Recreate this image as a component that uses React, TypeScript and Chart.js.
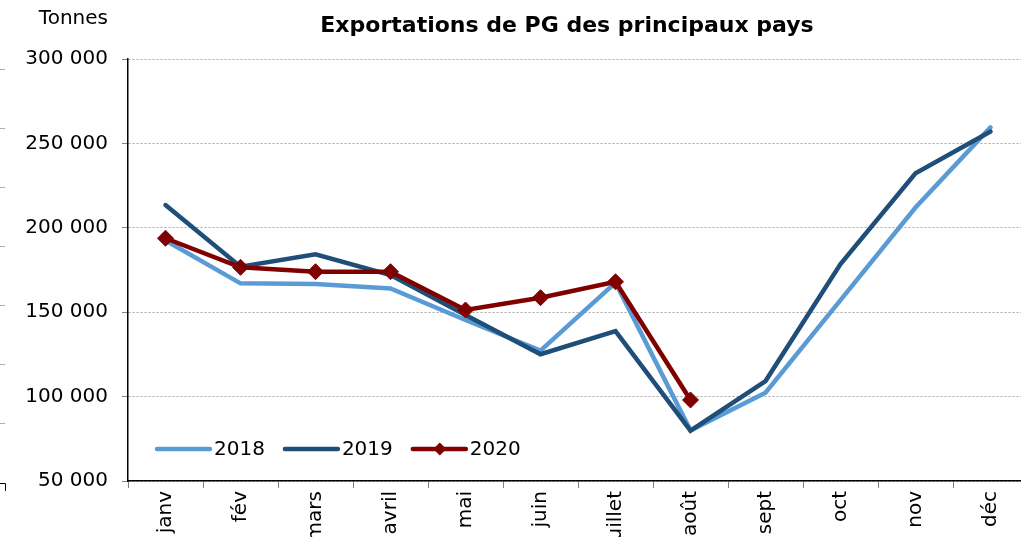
import React, { useEffect, useRef } from "react";
import { Chart, registerables } from "chart.js";

Chart.register(...registerables);

const months = ["janv", "fév", "mars", "avril", "mai", "juin", "juillet", "août", "sept", "oct", "nov", "déc"];
const values2018 = [192500, 167100, 166700, 164100, 145400, 127200, 167500, 80000, 102300, 157200, 212000, 259500];
const values2019 = [213500, 177000, 184300, 172000, 148400, 125100, 138800, 79800, 109200, 178500, 232300, 257000];
const values2020 = [193800, 176600, 174000, 174000, 151300, 158600, 168000, 98000, null, null, null, null];
const seriesLabels = ["2018", "2019", "2020"];
const yTicks = { min: 50000, max: 300000, step: 50000 };
const titleText = "Exportations de PG des principaux pays";
const unitText = "Tonnes";

const FONT = "'DejaVu Sans', sans-serif";

const fmt = (v: number) => String(v).replace(/\B(?=(\d{3})+(?!\d))/g, " ");

const decorPlugin = {
  id: "decor",
  afterDraw(chart: any) {
    const ctx = chart.ctx;
    ctx.save();
    // title
    ctx.fillStyle = "#000";
    ctx.font = `bold 22px ${FONT}`;
    ctx.textAlign = "center";
    ctx.textBaseline = "middle";
    ctx.fillText(titleText, 567, 26);
    // unit
    ctx.font = `20px ${FONT}`;
    ctx.textAlign = "right";
    ctx.fillText(unitText, 108, 19);
    // stray marks at left edge
    ctx.strokeStyle = "#b0b0b0";
    ctx.lineWidth = 1;
    [69, 128, 187, 246, 305, 364, 423].forEach((y) => {
      ctx.beginPath();
      ctx.moveTo(0, y + 0.5);
      ctx.lineTo(5, y + 0.5);
      ctx.stroke();
    });
    ctx.strokeStyle = "#000";
    ctx.beginPath();
    ctx.moveTo(0, 483.5);
    ctx.lineTo(5.5, 483.5);
    ctx.lineTo(5.5, 491);
    ctx.stroke();
    // legend
    let x = 157;
    const ly = 449;
    ctx.font = `20px ${FONT}`;
    ctx.textAlign = "left";
    ctx.textBaseline = "middle";
    chart.data.datasets.forEach((ds: any) => {
      ctx.strokeStyle = ds.borderColor;
      ctx.lineWidth = 4.5;
      ctx.lineCap = "round";
      ctx.beginPath();
      ctx.moveTo(x, ly);
      ctx.lineTo(x + 53, ly);
      ctx.stroke();
      if (ds.pointRadius > 0) {
        ctx.fillStyle = ds.borderColor;
        const r = 6.5;
        const cx = x + 27;
        ctx.beginPath();
        ctx.moveTo(cx, ly - r);
        ctx.lineTo(cx + r, ly);
        ctx.lineTo(cx, ly + r);
        ctx.lineTo(cx - r, ly);
        ctx.closePath();
        ctx.fill();
      }
      ctx.fillStyle = "#000";
      ctx.fillText(ds.label, x + 57, ly + 1);
      x += 57 + ctx.measureText(ds.label).width + 20;
    });
    ctx.restore();
  },
};

export default function App() {
  const ref = useRef<HTMLCanvasElement | null>(null);
  useEffect(() => {
    if (!ref.current) return;
    const chart = new Chart(ref.current, {
      type: "line",
      data: {
        labels: months,
        datasets: [
          {
            label: seriesLabels[0],
            data: values2018,
            borderColor: "#5B9BD5",
            backgroundColor: "#5B9BD5",
            borderWidth: 4.5,
            pointRadius: 0,
            borderCapStyle: "round",
            tension: 0,
            order: 2,
          },
          {
            label: seriesLabels[1],
            data: values2019,
            borderColor: "#1F4E79",
            backgroundColor: "#1F4E79",
            borderWidth: 4.5,
            pointRadius: 0,
            borderCapStyle: "round",
            tension: 0,
            order: 1,
          },
          {
            label: seriesLabels[2],
            data: values2020,
            borderColor: "#800000",
            backgroundColor: "#800000",
            borderWidth: 4.5,
            pointStyle: "rectRot",
            pointRadius: 8,
            pointBorderWidth: 1,
            pointBackgroundColor: "#800000",
            pointBorderColor: "#800000",
            tension: 0,
            spanGaps: false,
            order: 0,
          },
        ],
      },
      options: {
        animation: false,
        responsive: false,
        devicePixelRatio: 1,
        layout: { padding: { left: 0, top: 59, right: 12, bottom: 0 } },
        plugins: {
          legend: { display: false },
          title: { display: false },
          tooltip: { enabled: false },
        },
        scales: {
          x: {
            type: "category",
            offset: true,
            grid: { offset: true, drawOnChartArea: false, color: "#808080", tickLength: 7, lineWidth: 1 },
            border: { color: "#000", width: 1.5 },
            ticks: {
              minRotation: 90,
              maxRotation: 90,
              autoSkip: false,
              padding: 3,
              color: "#000",
              font: { family: FONT, size: 20 },
            },
            afterFit: (s: any) => {
              s.height = 56;
            },
          },
          y: {
            min: yTicks.min,
            max: yTicks.max,
            grid: { color: "#a6a6a6", tickColor: "#808080", tickLength: 6, lineWidth: 1 },
            border: { color: "#000", width: 1.5, dash: [2, 2] },
            ticks: {
              stepSize: yTicks.step,
              padding: 14,
              color: "#000",
              font: { family: FONT, size: 20 },
              callback: (v: any) => fmt(Number(v)),
            },
            afterFit: (s: any) => {
              s.width = 128;
            },
          },
        },
      },
      plugins: [decorPlugin],
    } as any);
    return () => chart.destroy();
  }, []);
  return (
    <div style={{ position: "absolute", left: 0, top: 0, width: 1021, height: 537, overflow: "hidden", background: "#fff" }}>
      <canvas ref={ref} width={1040} height={537} style={{ display: "block" }} />
    </div>
  );
}
